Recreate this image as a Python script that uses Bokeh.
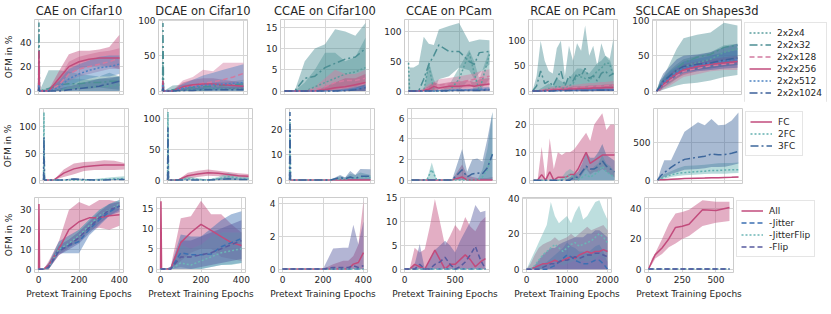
from bokeh.plotting import figure
from bokeh.models import Range1d, FixedTicker, Legend, LegendItem
from bokeh.layouts import row, column
from bokeh.embed import file_html
from bokeh.resources import INLINE

# ---------------- data: [mean, lower, upper] per series ----------------
SER1 = ["2x2x4", "2x2x32", "2x2x128", "2x2x256", "2x2x512", "2x2x1024"]
SER2 = ["FC", "2FC", "3FC"]
SER3 = ["All", "-Jitter", "-JitterFlip", "-Flip"]
TITLES = ["CAE on Cifar10", "DCAE on Cifar10", "CCAE on Cifar100", "CCAE on PCam", "RCAE on PCam", "SCLCAE on Shapes3d"]

P11_X = [0, 2, 5, 50, 100, 150, 200, 250, 300, 350, 400]
P11_4 = [[0, 20, 0, 0, 1, 2, 3, 3, 4, 4, 5], [0, 0, 0, 0, 0, 0, 0, 0, 0, 0, 0], [0, 45, 0, 3, 8, 10, 10, 9, 10, 10, 12]]
P11_32 = [[0, 56, 0, 2, 5, 6, 6, 7, 7, 8, 8], [0, 40, 0, 0, 0, 1, 2, 2, 3, 2, 1], [0, 56, 0, 17, 17, 16, 14, 13, 12, 15, 12]]
P11_128 = [[0, 10, 0, 0, 5, 14, 18, 20, 22, 24, 27], [0, 0, 0, 0, 0, 8, 12, 14, 16, 18, 18], [0, 25, 0, 1, 10, 24, 28, 30, 32, 33, 35]]
P11_256 = [[0, 33, 0, 0, 10, 20, 24, 26, 27, 27, 27], [0, 25, 0, 0, 4, 14, 18, 20, 21, 20, 18], [0, 35, 0, 1, 16, 30, 33, 33, 34, 36, 46]]
P11_512 = [[0, 5, 0, 0, 3, 10, 14, 17, 19, 20, 22], [0, 0, 0, 0, 0, 4, 8, 10, 12, 12, 14], [0, 12, 0, 1, 8, 18, 22, 25, 28, 29, 29]]
P11_1024 = [[0, 3, 0, 0, 0, 1, 2, 3, 4, 6, 8], [0, 0, 0, 0, 0, 0, 0, 0, 0, 0, 0], [0, 8, 0, 0, 2, 4, 6, 8, 10, 11, 12]]

P12_X = [0, 2, 5, 50, 100, 150, 200, 250, 300, 350, 400]
P12_4 = [[0, 40, 0, 0, 1, 2, 2, 3, 3, 3, 3], [0, 0, 0, 0, 0, 0, 0, 0, 0, 0, 0], [0, 70, 0, 2, 5, 6, 6, 8, 8, 8, 8]]
P12_32 = [[0, 96, 0, 2, 4, 5, 6, 7, 8, 9, 10], [0, 80, 0, 0, 0, 1, 1, 2, 2, 2, 3], [0, 96, 0, 8, 9, 10, 11, 12, 13, 14, 16]]
P12_128 = [[0, 8, 0, 0, 5, 8, 11, 13, 16, 20, 25], [0, 0, 0, 0, 1, 3, 5, 6, 8, 10, 14], [0, 17, 0, 1, 15, 20, 30, 28, 40, 40, 40]]
P12_256 = [[0, 15, 0, 0, 6, 9, 10, 10, 9, 8, 7], [0, 10, 0, 0, 2, 4, 5, 5, 4, 3, 3], [0, 17, 0, 1, 12, 16, 18, 18, 16, 14, 12]]
P12_512 = [[0, 10, 0, 0, 4, 6, 8, 9, 10, 11, 12], [0, 0, 0, 0, 0, 1, 2, 2, 3, 3, 3], [0, 20, 0, 1, 10, 16, 22, 26, 30, 34, 38]]
P12_1024 = [[0, 5, 0, 0, 1, 1, 2, 2, 2, 2, 2], [0, 0, 0, 0, 0, 0, 0, 0, 0, 0, 0], [0, 10, 0, 0, 3, 4, 5, 5, 5, 5, 5]]

P13_X = [0, 50, 100, 150, 200, 250, 300, 350, 400]
P13_4 = [[0, 0, 0, 1, 2, 3, 4, 4.5, 5.5], [0, 0, 0, 0, 0, 0, 0, 0, 0], [0, 0, 2, 5, 9, 9, 7, 8, 12.5]]
P13_32 = [[0, 0, 3, 3.5, 5.5, 6.5, 7.5, 8, 10], [0, 0, 0, 0, 0, 0.5, 1, 1, 2], [0, 0, 7, 10, 11, 14.5, 14, 13, 16]]
P13_128 = [[0, 0, 0, 0.3, 1, 2, 2.5, 2.5, 3], [0, 0, 0, 0, 0, 0, 0, 0, 0], [0, 0, 0, 1, 3, 5, 4, 4, 5]]
P13_256 = [[0, 0, 0, 0, 0.3, 0.8, 1, 1.5, 2], [0, 0, 0, 0, 0, 0, 0, 0, 0], [0, 0, 0, 0, 1, 2, 3, 3, 4]]
P13_512 = [[0, 0, 0, 0, 0, 0, 0.2, 0.5, 1], [0, 0, 0, 0, 0, 0, 0, 0, 0], [0, 0, 0, 0, 0, 0.3, 0.6, 1, 1.5]]
P13_1024 = [[0, 0, 0, 0, 0, 0, 0.1, 0.3, 0.8], [0, 0, 0, 0, 0, 0, 0, 0, 0], [0, 0, 0, 0, 0, 0.2, 0.4, 0.8, 1.6]]

P14_X = [0, 10, 50, 100, 150, 200, 250, 300, 400, 500, 600, 650, 700, 800]
P14_4 = [[48, 0, 0, 0, 0, 45, 0, 0, 0, 20, 65, 30, 0, 62], [0, 0, 0, 0, 0, 0, 0, 0, 0, 0, 20, 0, 0, 20], [48, 0, 0, 0, 0, 50, 20, 0, 10, 40, 70, 50, 20, 70]]
P14_32 = [[0, 0, 0, 0, 20, 45, 60, 78, 67, 67, 50, 45, 65, 67], [0, 0, 0, 0, 0, 0, 0, 20, 25, 40, 35, 20, 30, 45], [0, 40, 40, 45, 92, 80, 78, 104, 110, 115, 83, 85, 87, 86]]
P14_128 = [[0, 0, 0, 0, 2, 5, 8, 10, 12, 15, 18, 20, 22, 25], [0, 0, 0, 0, 0, 0, 2, 3, 4, 5, 6, 8, 8, 10], [0, 0, 0, 0, 5, 12, 15, 20, 22, 25, 28, 30, 33, 37]]
P14_256 = [[0, 0, 0, 0, 1, 3, 8, 5, 8, 8, 10, 8, 10, 12], [0, 0, 0, 0, 0, 0, 0, 0, 0, 0, 0, 0, 0, 0], [0, 0, 0, 0, 3, 8, 15, 12, 15, 16, 18, 15, 20, 22]]
P14_512 = [[0, 0, 0, 0, 0, 0, 0, 1, 1, 2, 2, 2, 3, 3], [0, 0, 0, 0, 0, 0, 0, 0, 0, 0, 0, 0, 0, 0], [0, 0, 0, 0, 0, 0, 0, 2, 3, 4, 4, 5, 6, 7]]
P14_1024 = [[0, 0, 0, 0, 0, 0, 0, 0, 0.5, 1, 1, 1, 1, 2], [0, 0, 0, 0, 0, 0, 0, 0, 0, 0, 0, 0, 0, 0], [0, 0, 0, 0, 0, 0, 0, 1, 2, 2, 3, 3, 3, 4]]

P15_X = [0, 100, 200, 300, 400, 500, 600, 700, 800, 900, 1000, 1100, 1200, 1300, 1400, 1500, 1600, 1700, 1800, 1900, 2000]
P15_4 = [[0, 0, 0, 2, 5, 3, 10, 8, 5, 10, 15, 30, 28, 25, 20, 30, 40, 45, 55, 55, 30],
         [0, 0, 0, 0, 0, 0, 0, 0, 0, 0, 0, 0, 0, 0, 0, 0, 0, 0, 0, 0, 0],
         [0, 0, 5, 10, 15, 10, 25, 20, 15, 25, 35, 45, 45, 40, 35, 45, 55, 60, 70, 65, 40]]
P15_32 = [[0, 10, 40, 15, 20, 10, 25, 40, 10, 30, 20, 35, 30, 45, 25, 30, 20, 35, 40, 30, 35],
          [0, 0, 0, 0, 0, 0, 0, 0, 0, 0, 0, 0, 0, 0, 0, 0, 0, 0, 0, 0, 0],
          [0, 30, 100, 60, 40, 35, 85, 100, 30, 90, 60, 95, 80, 130, 70, 90, 50, 95, 70, 60, 105]]
P15_128 = [[0, 0, 1, 2, 3, 3, 4, 5, 5, 6, 6, 7, 8, 8, 9, 9, 10, 10, 11, 11, 12],
           [0, 0, 0, 0, 0, 0, 0, 0, 0, 0, 0, 0, 0, 0, 0, 0, 0, 0, 0, 0, 0],
           [0, 0, 3, 5, 7, 8, 9, 10, 11, 12, 12, 13, 14, 15, 16, 16, 17, 18, 18, 19, 20]]
P15_256 = [[0, 0, 0, 1, 1, 2, 2, 3, 3, 4, 4, 4, 5, 5, 5, 6, 6, 6, 7, 7, 7],
           [0, 0, 0, 0, 0, 0, 0, 0, 0, 0, 0, 0, 0, 0, 0, 0, 0, 0, 0, 0, 0],
           [0, 0, 1, 3, 4, 5, 6, 7, 7, 8, 9, 9, 10, 10, 11, 11, 12, 12, 13, 13, 14]]
P15_512 = [[0, 0, 0, 0, 0, 0.5, 0.5, 1, 1, 1, 1, 1, 1.5, 1.5, 1.5, 2, 2, 2, 2, 2, 2],
           [0, 0, 0, 0, 0, 0, 0, 0, 0, 0, 0, 0, 0, 0, 0, 0, 0, 0, 0, 0, 0],
           [0, 0, 0, 1, 1, 2, 2, 3, 3, 3, 3, 3, 4, 4, 4, 4, 5, 5, 5, 5, 5]]
P15_1024 = [[0, 0, 0, 0, 0, 0, 0.5, 0.5, 0.5, 1, 1, 1, 1, 1, 1, 1, 1.5, 1.5, 1.5, 1.5, 1.5],
            [0, 0, 0, 0, 0, 0, 0, 0, 0, 0, 0, 0, 0, 0, 0, 0, 0, 0, 0, 0, 0],
            [0, 0, 0, 0, 1, 1, 2, 2, 2, 2, 2, 3, 3, 3, 3, 3, 3, 4, 4, 4, 4]]

P16_X = [0, 25, 50, 100, 150, 200, 300, 400, 500, 600]
P16_4 = [[0, 5, 12, 20, 28, 35, 40, 45, 55, 60], [0, 0, 5, 10, 18, 25, 30, 33, 40, 45], [0, 10, 20, 30, 38, 45, 50, 55, 65, 67]]
P16_32 = [[0, 8, 15, 22, 32, 40, 48, 52, 62, 65], [0, 0, 2, 5, 8, 10, 12, 15, 20, 23], [0, 15, 20, 40, 60, 75, 80, 83, 97, 93]]
P16_128 = [[0, 3, 8, 15, 22, 28, 32, 36, 38, 40], [0, 0, 3, 8, 14, 20, 24, 28, 30, 30], [0, 6, 14, 22, 30, 36, 40, 44, 45, 47]]
P16_256 = [[0, 4, 10, 18, 25, 30, 35, 38, 40, 42], [0, 1, 5, 12, 18, 23, 28, 30, 32, 33], [0, 8, 15, 25, 32, 38, 42, 45, 48, 50]]
P16_512 = [[0, 5, 12, 20, 27, 33, 37, 40, 43, 45], [0, 1, 6, 13, 20, 25, 28, 30, 32, 33], [0, 10, 18, 28, 35, 42, 46, 50, 55, 58]]
P16_1024 = [[0, 6, 14, 22, 30, 35, 38, 40, 44, 47], [0, 2, 8, 15, 22, 27, 30, 32, 35, 37], [0, 15, 25, 35, 45, 50, 52, 55, 62, 67]]

P21_X = [0, 2, 5, 50, 100, 150, 200, 250, 300, 350, 400]
P21_FC = [[0, 5, 0, 0, 13, 21, 25, 27, 28, 28, 28], [0, 0, 0, 0, 6, 11, 17, 19, 19, 19, 20], [0, 10, 0, 0, 20, 31, 34, 35, 37, 36, 32]]
P21_2FC = [[0, 127, 0, 0, 0, 0, 0, 0, 1, 2, 3], [0, 100, 0, 0, 0, 0, 0, 0, 0, 0, 0], [0, 127, 0, 0, 0, 1, 1, 2, 4, 6, 7]]
P21_3FC = [[0, 80, 0, 0, 0, 2, 1, 0, 0, 1, 1], [0, 40, 0, 0, 0, 0, 0, 0, 0, 0, 0], [0, 85, 0, 0, 1, 4, 2, 1, 1, 2, 2]]

P22_X = [0, 2, 5, 50, 100, 150, 200, 250, 300, 350, 400]
P22_FC = [[0, 5, 0, 0, 7, 10, 12, 11, 9, 7, 6], [0, 0, 0, 0, 2, 5, 7, 6, 5, 4, 3], [0, 10, 0, 0, 12, 15, 17, 15, 13, 11, 10]]
P22_2FC = [[0, 110, 0, 0, 2, 1, 0, 2, 6, 3, 2], [0, 90, 0, 0, 0, 0, 0, 0, 0, 0, 0], [0, 110, 0, 0, 6, 3, 1, 5, 12, 8, 5]]
P22_3FC = [[0, 85, 0, 0, 0, 0, 0, 1, 2, 1, 1], [0, 40, 0, 0, 0, 0, 0, 0, 0, 0, 0], [0, 90, 0, 0, 1, 1, 1, 3, 5, 3, 2]]

P23_X = [0, 2, 5, 50, 100, 150, 200, 250, 275, 300, 325, 350, 400]
P23_FC = [[0, 0, 0, 0, 0, 0, 0, 0, 0, 0, 0, 0, 0], [0, 0, 0, 0, 0, 0, 0, 0, 0, 0, 0, 0, 0], [0, 1, 0, 0, 0, 0, 0, 0.3, 0.3, 0.5, 0.5, 0.5, 0.5]]
P23_2FC = [[0, 24, 0, 0, 0, 0, 0, 0.5, 0.3, 1, 0.8, 1, 1], [0, 0, 0, 0, 0, 0, 0, 0, 0, 0, 0, 0, 0], [0, 27, 0, 0, 0, 0, 0, 1.5, 1, 2.5, 2, 3, 2]]
P23_3FC = [[0, 27, 0, 0, 0, 0, 0, 1, 0.5, 1.2, 0.6, 1.5, 1.5], [0, 0, 0, 0, 0, 0, 0, 0, 0, 0, 0, 0, 0], [0, 27, 0, 0, 0, 0, 0, 2, 1, 3.6, 2, 4.4, 4.3]]

P24_X = [0, 100, 150, 200, 250, 300, 400, 500, 550, 600, 650, 700, 750, 800]
P24_FC = [[0, 0, 0, 0, 0, 0, 0, 0.3, 0, 0, 0, 0, 0, 0], [0, 0, 0, 0, 0, 0, 0, 0, 0, 0, 0, 0, 0, 0], [0, 0, 0, 0, 0, 0, 0, 1.5, 0.5, 0.3, 0.2, 0.2, 0.2, 0.3]]
P24_2FC = [[0, 0, 0, 1, 0, 0, 0, 0, 0, 0, 0, 0.3, 1, 2.7], [0, 0, 0, 0, 0, 0, 0, 0, 0, 0, 0, 0, 0, 0], [0, 0, 0, 1.7, 0, 0, 0, 0, 0, 0, 0, 1, 3, 6.6]]
P24_3FC = [[0, 0, 0, 0, 0, 0, 0, 1, 0.3, 0.6, 0.7, 0.6, 1.2, 2.5], [0, 0, 0, 0, 0, 0, 0, 0, 0, 0, 0, 0, 0, 0], [0, 0, 0, 0, 0, 0, 0, 3, 0.8, 2, 2.1, 1.8, 4, 6.6]]

P25_X = [0, 100, 200, 300, 400, 500, 600, 700, 800, 900, 1000, 1100, 1200, 1300, 1400, 1500, 1600, 1700, 1800, 1900, 2000]
P25_FC = [[0, 0, 2, 0, 3, 0, 1, 1, 1, 2, 2, 4, 7, 10, 6, 7, 8, 9, 9, 9, 9],
          [0, 0, 0, 0, 0, 0, 0, 0, 0, 0, 0, 0, 2, 4, 2, 3, 3, 4, 3, 2, 1],
          [0, 0, 12, 0, 15, 4, 10, 9, 10, 10, 11, 13, 15, 17, 14, 20, 22, 24, 18, 20, 20]]
P25_2FC = [[0, 0, 0, 0, 0, 0, 0, 0, 1, 2, 1, 0, 1, 2, 1, 2, 3, 5, 3, 2, 1],
           [0, 0, 0, 0, 0, 0, 0, 0, 0, 0, 0, 0, 0, 0, 0, 0, 0, 0, 0, 0, 0],
           [0, 0, 0, 0, 0, 0, 0, 1, 3, 4, 3, 1, 3, 5, 3, 5, 6, 9, 6, 5, 3]]
P25_3FC = [[0, 0, 0, 0, 0, 0, 0, 0, 0, 0, 1, 1, 3, 5, 4, 4, 5, 7, 5, 4, 3],
           [0, 0, 0, 0, 0, 0, 0, 0, 0, 0, 0, 0, 0, 0, 0, 0, 0, 0, 0, 0, 0],
           [0, 0, 0, 0, 0, 0, 0, 0, 0, 1, 2, 3, 6, 10, 8, 8, 10, 13, 9, 8, 7]]

P26_X = [0, 25, 50, 100, 150, 200, 300, 350, 400, 450, 500, 550, 600]
P26_FC = [[0, 3, 6, 12, 16, 20, 25, 27, 30, 32, 35, 37, 40], [0, 1, 3, 8, 12, 15, 20, 22, 24, 26, 28, 30, 32], [0, 5, 10, 16, 22, 26, 32, 34, 36, 38, 42, 44, 48]]
P26_2FC = [[0, 20, 40, 70, 90, 100, 115, 120, 130, 130, 135, 138, 140], [0, 5, 15, 40, 55, 65, 75, 80, 85, 85, 85, 90, 95], [0, 40, 80, 120, 160, 190, 200, 205, 215, 225, 230, 230, 235]]
P26_3FC = [[0, 60, 100, 170, 230, 278, 308, 320, 350, 340, 342, 360, 385], [0, 20, 40, 80, 110, 137, 150, 160, 175, 175, 180, 200, 222], [0, 150, 265, 265, 457, 650, 777, 735, 820, 735, 743, 800, 906]]

P31_X = [0, 2, 5, 25, 50, 100, 150, 200, 250, 300, 350, 400]
P31_ALL = [[0, 33, 0, 0, 2, 10, 20, 24, 26, 26, 27, 27.5], [0, 33, 0, 0, 0, 7, 11, 14, 20, 21, 20, 22], [0, 33, 0, 0, 4, 14, 30, 34, 32, 35, 35, 34]]
P31_J = [[0, 0, 0, 0, 1, 10, 12, 14, 20, 25, 29, 32], [0, 0, 0, 0, 0, 8, 8, 8, 17, 22, 27, 30], [0, 0, 0, 0, 3, 14, 17, 20, 25, 30, 33, 35]]
P31_JF = [[0, 0, 0, 0, 1, 10, 13, 17, 22, 27, 30, 33], [0, 0, 0, 0, 0, 8, 11, 14, 19, 24, 28, 31], [0, 0, 0, 0, 3, 13, 16, 20, 25, 30, 33, 35]]
P31_F = [[0, 0, 0, 0, 1, 9, 12, 16, 21, 26, 30, 32], [0, 0, 0, 0, 0, 7, 10, 13, 18, 23, 27, 29], [0, 0, 0, 0, 3, 12, 15, 19, 24, 29, 33, 34]]

P32_X = [0, 2, 5, 25, 50, 100, 150, 200, 250, 300, 350, 400]
P32_ALL = [[0, 16.7, 0, 0, 0, 6.5, 9, 11, 9.5, 8, 6.5, 5.8], [0, 16.7, 0, 0, 0, 2, 4, 5, 5, 3, 2.5, 2], [0, 16.7, 0, 0, 0.5, 12.5, 13, 16.8, 13.5, 13.5, 11, 9]]
P32_J = [[0, 0, 0, 0, 0, 4, 3.5, 3.5, 3.7, 5.5, 6.5, 7.5], [0, 0, 0, 0, 0, 0.5, 0, 0, 0.5, 1, 1.2, 1.5], [0, 0, 0, 0, 0.5, 8.5, 8, 8, 10, 12, 13.5, 14.2]]
P32_JF = [[0, 0, 0, 0, 0, 1.5, 1, 2, 3, 4, 4.5, 5], [0, 0, 0, 0, 0, 0, 0, 0, 0.5, 1, 1, 1.5], [0, 0, 0, 0, 0.5, 6, 5, 6, 8, 9, 9, 9]]
P32_F = [[0, 0, 0, 0, 0, 3, 3, 3.5, 4, 5, 6, 7], [0, 0, 0, 0, 0, 0, 0, 0.5, 1, 1.5, 2, 2.5], [0, 0, 0, 0, 0.5, 7, 7, 8, 9, 10, 11, 12]]

P33_X = [0, 50, 100, 150, 200, 250, 300, 325, 350, 375, 400]
P33_ALL = [[0, 0, 0, 0, 0, 0, 0, 0, 0.3, 0.4, 1], [0, 0, 0, 0, 0, 0, 0, 0, 0, 0, 0], [0, 0, 0, 0, 0, 0.3, 0.5, 0.5, 0.8, 1.5, 4.15]]
P33_J = [[0, 0, 0, 0, 0, 0, 0, 0, 0, 0, 0], [0, 0, 0, 0, 0, 0, 0, 0, 0, 0, 0], [0, 0, 0, 0, 0, 0, 0, 0, 0, 0, 0]]
P33_JF = [[0, 0, 0, 0, 0, 0, 0, 0, 0, 0, 0], [0, 0, 0, 0, 0, 0, 0, 0, 0, 0, 0], [0, 0, 0, 0, 0, 0, 0, 0, 0, 0, 0]]
P33_F = [[0, 0, 0, 0, 0, 0.1, 0.1, 0.1, 0.2, 0.1, 0.2], [0, 0, 0, 0, 0, 0, 0, 0, 0, 0, 0], [0, 0, 0, 0, 0, 1.25, 1.3, 1.3, 2.7, 1.5, 2.9]]

P34_X = [0, 50, 100, 150, 200, 250, 300, 350, 400, 450, 500, 550, 600, 650, 700, 750, 800]
P34_ALL = [[0, 0, 1, 0.5, 0, 2, 4, 2, 0, 1, 1, 2, 3, 2, 0.5, 1.5, 2.2],
           [0, 0, 0, 0, 0, 0, 0, 0, 0, 0, 0, 0, 0, 0, 0, 0, 0],
           [0, 0, 4.5, 3.5, 4.2, 9, 14.8, 10, 5, 7, 9.3, 8, 11, 9, 8, 10, 11]]
P34_J = [[0, 0, 0, 0, 0, 0, 0, 0, 0, 0, 0, 0, 0, 0, 0, 0, 0],
         [0, 0, 0, 0, 0, 0, 0, 0, 0, 0, 0, 0, 0, 0, 0, 0, 0],
         [0, 0, 0, 0, 0, 0, 0, 0, 0, 0, 0, 0, 0, 0, 0, 0, 0]]
P34_JF = [[0, 0, 0, 0, 0, 0, 0, 0, 0, 0, 0, 0, 0, 0, 0, 0, 0],
          [0, 0, 0, 0, 0, 0, 0, 0, 0, 0, 0, 0, 0, 0, 0, 0, 0],
          [0, 0, 0, 0, 0, 0, 0, 0, 0, 0, 0, 0, 0, 0, 0, 0, 0]]
P34_F = [[0, 0, 0, 1, 0, 0, 1, 1.5, 2.5, 1, 0, 0.5, 1.5, 3, 4.8, 2, 0],
         [0, 0, 0, 0, 0, 0, 0, 0, 0, 0, 0, 0, 0, 0, 0, 0, 0],
         [0, 0, 1, 5.3, 0, 2, 4, 5, 6, 5, 3.5, 6, 8, 10, 13.5, 12, 12.3]]

P35_X = [0, 100, 200, 300, 400, 500, 600, 700, 800, 900, 1000, 1100, 1200, 1300, 1400, 1500, 1600, 1700, 1800, 1900, 2000]
P35_ALL = [[0, 0, 1, 2, 3, 3, 4, 5, 4, 5, 6, 7, 6, 8, 9, 10, 9, 10, 10, 11, 10],
           [0, 0, 0, 0, 0, 0, 0, 0, 0, 0, 0, 0, 0, 0, 0, 0, 0, 0, 0, 0, 0],
           [0, 3, 8, 12, 14, 15, 16, 18, 16, 17, 18, 20, 18, 20, 22, 24, 22, 23, 24, 25, 22]]
P35_J = [[0, 0, 0, 0, 0, 0, 1, 2, 4, 6, 8, 7, 5, 4, 3, 3, 4, 5, 5, 3, 0],
         [0, 0, 0, 0, 0, 0, 0, 0, 0, 0, 0, 0, 0, 0, 0, 0, 0, 0, 0, 0, 0],
         [0, 0, 1, 2, 3, 4, 6, 8, 10, 12, 15, 13, 12, 10, 10, 9, 11, 13, 14, 10, 4]]
P35_JF = [[0, 0, 2, 5, 8, 10, 12, 14, 12, 10, 12, 14, 15, 13, 14, 15, 16, 18, 20, 18, 15],
          [0, 0, 0, 0, 0, 2, 3, 4, 3, 2, 3, 4, 5, 4, 5, 4, 5, 6, 8, 6, 4],
          [0, 5, 10, 15, 20, 25, 38, 30, 26, 28, 30, 26, 32, 36, 28, 30, 34, 38, 39, 33, 28]]
P35_F = [[0, 0, 0, 0, 1, 2, 3, 3, 4, 5, 5, 6, 7, 6, 7, 8, 8, 9, 9, 8, 7],
         [0, 0, 0, 0, 0, 0, 0, 0, 0, 0, 0, 0, 0, 0, 0, 0, 0, 0, 0, 0, 0],
         [0, 0, 2, 5, 8, 10, 12, 12, 14, 15, 16, 17, 18, 18, 18, 20, 20, 22, 22, 20, 18]]

P36_X = [0, 25, 50, 100, 150, 200, 250, 300, 400, 500, 600]
P36_ALL = [[0, 5, 9.6, 14, 20, 27.7, 28.5, 29.8, 39.4, 39, 40.9], [0, 3, 7, 10, 14.5, 17, 20, 22, 28.7, 30.8, 31.9], [0, 7, 10.6, 20, 30, 37, 38, 39.4, 45.7, 44.7, 44.7]]
P36_J = [[0, 0, 0, 0, 0, 0, 0, 0, 0, 0, 0], [0, 0, 0, 0, 0, 0, 0, 0, 0, 0, 0], [0, 0, 0, 0, 0, 0, 0, 0, 0, 0, 0]]
P36_JF = [[0, 0, 0, 0, 0, 0, 0, 0, 0, 0, 0], [0, 0, 0, 0, 0, 0, 0, 0, 0, 0, 0], [0, 0, 0, 0, 0, 0, 0, 0, 0, 0, 0]]
P36_F = [[0, 0, 0, 0, 0, 0, 0, 0, 0, 0, 0], [0, 0, 0, 0, 0, 0, 0, 0, 0, 0, 0], [0, 0, 0, 0, 0, 0, 0, 0, 0, 0, 0]]

# axes
X_RANGES = [(-20, 420), (-20, 420), (-20, 420), (-40, 840), (-100, 2100), (-30, 630)]
X_TICKS = [[0, 200, 400], [0, 200, 400], [0, 200, 400], [0, 500], [0, 1000, 2000], [0, 250, 500]]
Y_RANGES = [
    [(-2.8, 58.5), (-4.8, 101), (-0.8, 16.8), (-5.8, 121), (-6.8, 142), (-4.8, 101.5)],
    [(-6.4, 134), (-5.5, 115.5), (-1.35, 28.4), (-0.33, 6.93), (-1.2, 25.7), (-46, 961)],
    [(-1.7, 36.3), (-0.84, 17.6), (-0.21, 4.36), (-0.72, 15.1), (-1.9, 40.5), (-2.3, 47.6)],
]
Y_TICKS = [
    [[0, 20, 40], [0, 50, 100], [0, 5, 10, 15], [0, 50, 100], [0, 50, 100], [0, 50, 100]],
    [[0, 50, 100], [0, 50, 100], [0, 10, 20], [0, 2, 4, 6], [0, 10, 20], [0, 500]],
    [[0, 10, 20, 30], [0, 5, 10, 15], [0, 2, 4], [0, 5, 10, 15], [0, 20, 40], [0, 20, 40]],
]

PANELS = [
    [(P11_X, [P11_4, P11_32, P11_128, P11_256, P11_512, P11_1024]),
     (P12_X, [P12_4, P12_32, P12_128, P12_256, P12_512, P12_1024]),
     (P13_X, [P13_4, P13_32, P13_128, P13_256, P13_512, P13_1024]),
     (P14_X, [P14_4, P14_32, P14_128, P14_256, P14_512, P14_1024]),
     (P15_X, [P15_4, P15_32, P15_128, P15_256, P15_512, P15_1024]),
     (P16_X, [P16_4, P16_32, P16_128, P16_256, P16_512, P16_1024])],
    [(P21_X, [P21_FC, P21_2FC, P21_3FC]), (P22_X, [P22_FC, P22_2FC, P22_3FC]),
     (P23_X, [P23_FC, P23_2FC, P23_3FC]), (P24_X, [P24_FC, P24_2FC, P24_3FC]),
     (P25_X, [P25_FC, P25_2FC, P25_3FC]), (P26_X, [P26_FC, P26_2FC, P26_3FC])],
    [(P31_X, [P31_ALL, P31_J, P31_JF, P31_F]), (P32_X, [P32_ALL, P32_J, P32_JF, P32_F]),
     (P33_X, [P33_ALL, P33_J, P33_JF, P33_F]), (P34_X, [P34_ALL, P34_J, P34_JF, P34_F]),
     (P35_X, [P35_ALL, P35_J, P35_JF, P35_F]), (P36_X, [P36_ALL, P36_J, P36_JF, P36_F])],
]
NAMES = [SER1, SER2, SER3]

PINK = "#c24b7c"
STYLES = [
    [("#5a9e9e", "2 2"), ("#4c8f94", "8 3 2 3"), ("#d27aa0", "5 3"), (PINK, "solid"), ("#4c82c2", "2 2"), ("#3c609a", "8 3 2 3")],
    [(PINK, "solid"), ("#62b0b0", "2 2"), ("#3d679c", "8 3 2 3")],
    [(PINK, "solid"), ("#3b6fb2", "5 3"), ("#6cb6b6", "2 2"), ("#575a9f", "5 3")],
]

FONT = "DejaVu Sans"
TXT = "#262626"
FW, FH = 89, 75

rows = []
for r in range(3):
    figs = []
    for c in range(6):
        xs, series = PANELS[r][c]
        p = figure(frame_width=FW, frame_height=FH,
                   x_range=Range1d(*X_RANGES[c]), y_range=Range1d(*Y_RANGES[r][c]),
                   x_axis_location="below" if r == 2 else None,
                   output_backend="svg", toolbar_location=None,
                   min_border_left=34 if c == 0 else 21, min_border_right=12,
                   min_border_top=17 if r == 0 else 7, min_border_bottom=28 if r == 2 else 7,
                   title=TITLES[c] if r == 0 else None)
        p.outline_line_color = "#cccccc"
        p.outline_line_width = 1
        p.background_fill_color = "white"
        for g in p.xgrid:
            g.ticker = FixedTicker(ticks=X_TICKS[c])
            g.grid_line_color = "#d6d6d6"
        for g in p.ygrid:
            g.ticker = FixedTicker(ticks=Y_TICKS[r][c])
            g.grid_line_color = "#d6d6d6"
        if r == 0:
            p.title.text_font = FONT
            p.title.text_font_size = "11.5px"
            p.title.text_font_style = "normal"
            p.title.text_color = TXT
            p.title.align = "center"
            p.title.standoff = 3
        axes = list(p.yaxis) + (list(p.xaxis) if r == 2 else [])
        for ax in axes:
            ax.major_tick_out = 0
            ax.major_tick_in = 0
            ax.minor_tick_out = 0
            ax.minor_tick_in = 0
            ax.axis_line_color = None
            ax.major_label_text_font = FONT
            ax.major_label_text_font_size = "9px"
            ax.major_label_text_color = TXT
            ax.major_label_standoff = 3
            ax.axis_label_text_font = FONT
            ax.axis_label_text_font_size = "9px"
            ax.axis_label_text_font_style = "normal"
            ax.axis_label_text_color = TXT
            ax.axis_label_standoff = 3
        p.yaxis.ticker = FixedTicker(ticks=Y_TICKS[r][c])
        if r == 2:
            p.xaxis.ticker = FixedTicker(ticks=X_TICKS[c])
            p.xaxis.axis_label = "Pretext Training Epochs"
        if c == 0:
            p.yaxis.axis_label = "OFM in %"

        for k, (m, lo, hi) in enumerate(series):
            col, dash = STYLES[r][k]
            p.varea(x=xs, y1=lo, y2=hi, fill_color=col, fill_alpha=0.45)
        lines = []
        for k, (m, lo, hi) in enumerate(series):
            col, dash = STYLES[r][k]
            ln = p.line(xs, m, line_color=col, line_width=1.5, line_dash=dash)
            lines.append(ln)
        if c == 5:
            items = [LegendItem(label=NAMES[r][k], renderers=[lines[k]]) for k in range(len(lines))]
            lg = Legend(items=items, location="top_left")
            lg.label_text_font = FONT
            lg.label_text_font_size = "9px"
            lg.label_text_color = TXT
            lg.glyph_width = 22
            lg.glyph_height = 11
            lg.label_height = 11
            lg.spacing = 1
            lg.padding = 4
            lg.margin = 3
            lg.label_standoff = 6
            lg.border_line_color = "#cccccc"
            lg.border_line_width = 1
            p.add_layout(lg, "right")
        figs.append(p)
    rows.append(row(*figs))

layout = column(*rows)
open("out.html", "w").write(file_html(layout, INLINE))
